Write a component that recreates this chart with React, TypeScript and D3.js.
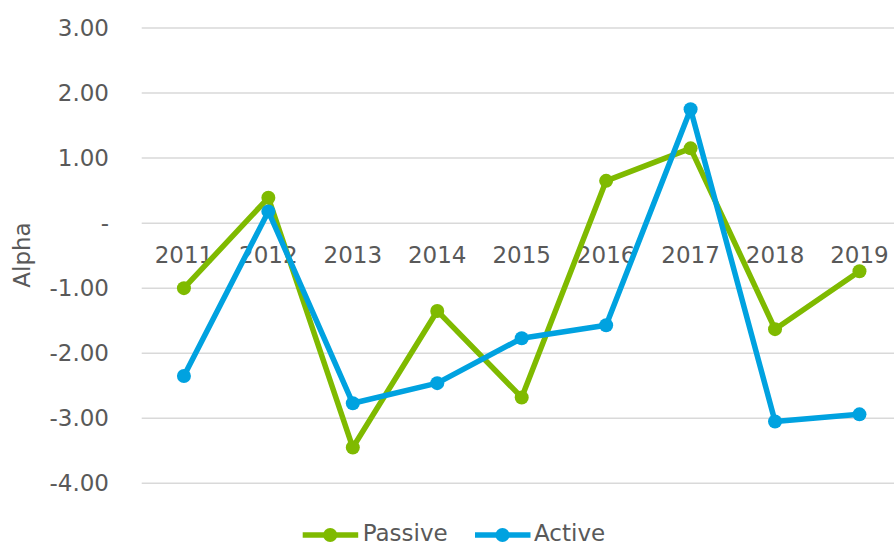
import React from "react";
import * as d3 from "d3";

const years = ["2011", "2012", "2013", "2014", "2015", "2016", "2017", "2018", "2019"];
const passive = [-1.0, 0.39, -3.45, -1.35, -2.68, 0.65, 1.15, -1.63, -0.74];
const active = [-2.35, 0.18, -2.77, -2.46, -1.77, -1.57, 1.75, -3.05, -2.94];
const yTicks = [3, 2, 1, 0, -1, -2, -3, -4];

const W = 894;
const H = 545;
const FONT = "'DejaVu Sans', Verdana, sans-serif";
const TEXT = "#595959";
const GREEN = "#7FBA00";
const BLUE = "#00A2E0";

export default function App() {
  const x = d3.scalePoint<string>().domain(years).range([141.7, 901.7]).padding(0.5);
  const y = d3.scaleLinear().domain([-4, 3]).range([483.3, 28]);
  const line = d3
    .line<number>()
    .x((_, i) => x(years[i]) as number)
    .y((d) => y(d));

  const series = [
    { name: "Passive", values: passive, color: GREEN },
    { name: "Active", values: active, color: BLUE },
  ];

  const fmt = (v: number) => (v === 0 ? "-" : v.toFixed(2));

  return (
    <svg width={W} height={H} style={{ position: "absolute", left: 0, top: 0, background: "#fff" }}>
      {yTicks.map((t) => (
        <g key={t}>
          <line x1={141.7} x2={W} y1={y(t)} y2={y(t)} stroke="#D9D9D9" strokeWidth={1.5} />
          <text
            x={109}
            y={y(t)}
            textAnchor="end"
            dominantBaseline="central"
            fontFamily={FONT}
            fontSize={23}
            fill={TEXT}
          >
            {fmt(t)}
          </text>
        </g>
      ))}
      {years.map((yr) => (
        <text
          key={yr}
          x={x(yr)}
          y={263}
          textAnchor="middle"
          fontFamily={FONT}
          fontSize={23}
          fill={TEXT}
        >
          {yr}
        </text>
      ))}
      <text
        transform={`translate(22,255) rotate(-90)`}
        textAnchor="middle"
        dominantBaseline="central"
        fontFamily={FONT}
        fontSize={23}
        fill={TEXT}
      >
        Alpha
      </text>
      {series.map((s) => (
        <g key={s.name}>
          <path d={line(s.values) || ""} fill="none" stroke={s.color} strokeWidth={5.5} strokeLinejoin="round" />
          {s.values.map((v, i) => (
            <circle key={i} cx={x(years[i])} cy={y(v)} r={7} fill={s.color} />
          ))}
        </g>
      ))}
      {[
        { s: series[0], lx: 302.7, tx: 362.7 },
        { s: series[1], lx: 475, tx: 534 },
      ].map(({ s, lx, tx }) => (
        <g key={s.name}>
          <line x1={lx} x2={lx + 55.5} y1={535} y2={535} stroke={s.color} strokeWidth={5.5} />
          <circle cx={lx + 27.5} cy={535} r={7} fill={s.color} />
          <text x={tx} y={533} dominantBaseline="central" fontFamily={FONT} fontSize={23} fill={TEXT}>
            {s.name}
          </text>
        </g>
      ))}
    </svg>
  );
}
